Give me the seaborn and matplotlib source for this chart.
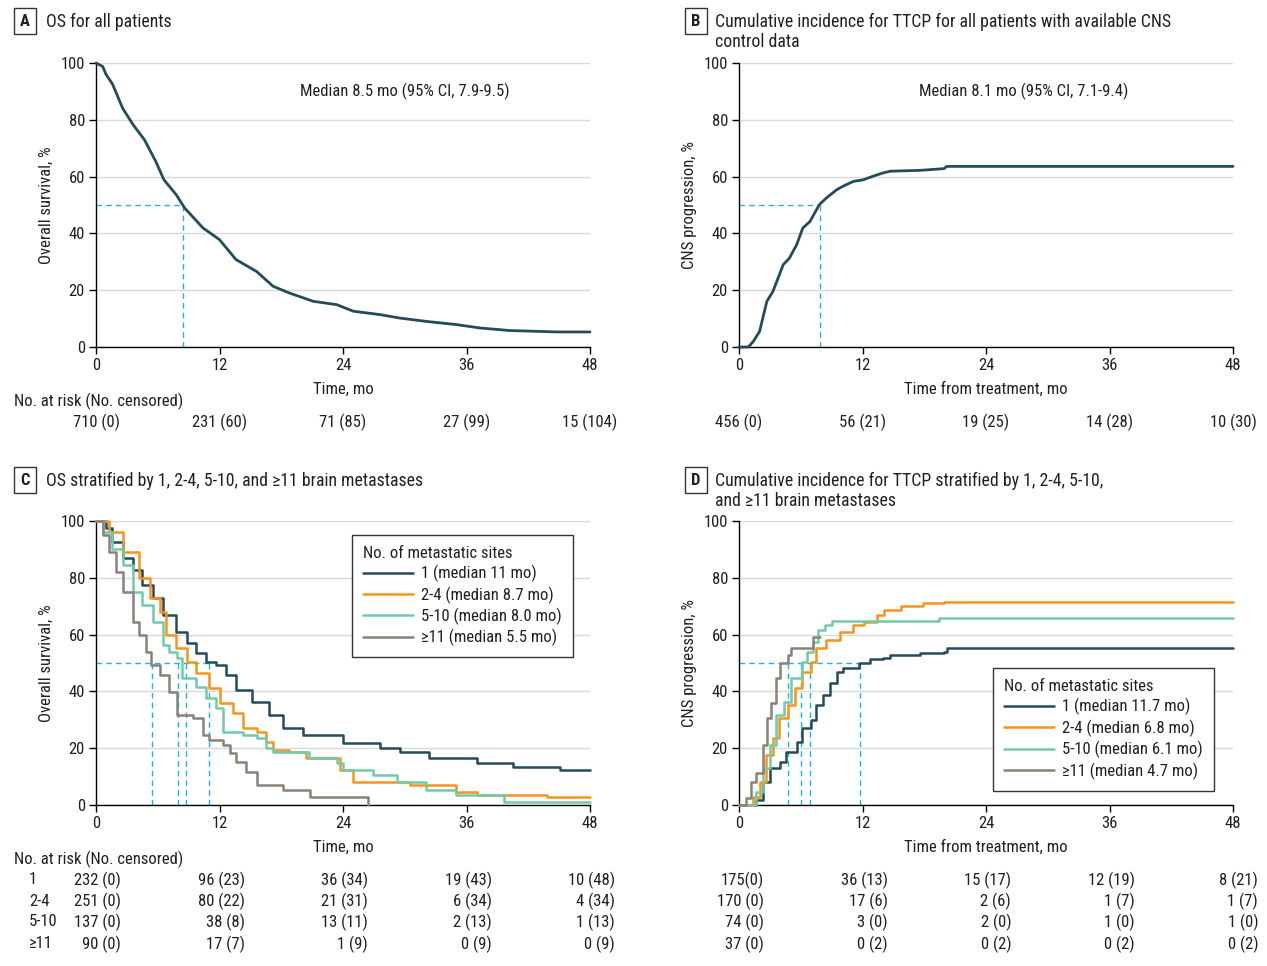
import numpy as np
import pandas as pd
import matplotlib
matplotlib.use("Agg")
import matplotlib.pyplot as plt
import seaborn as sns
from matplotlib import font_manager as fm
from matplotlib.transforms import blended_transform_factory

# ---------------- DATA ----------------
months_ticks = [0, 12, 24, 36, 48]
pct_ticks = [0, 20, 40, 60, 80, 100]

# Panel A: OS for all patients
os_all_t = [0, 0.65, 0.97, 1.6, 2.6, 3.6, 4.7, 5.8, 6.6, 7.8, 8.6, 10.4, 12.0, 13.6, 15.6, 17.2,
            18.8, 21.1, 23.4, 25.0, 27.6, 29.5, 32.1, 35.0, 37.3, 40.2, 44.8, 48.0]
os_all_v = [100, 98.8, 96, 92.6, 84, 78.3, 73, 65.4, 58.9, 53.6, 49, 41.9, 37.8, 30.8, 26.6, 21.4,
            19, 16.1, 14.9, 12.6, 11.4, 10.2, 9.0, 7.9, 6.7, 5.8, 5.3, 5.3]
os_all_median = 8.5
os_all_note = "Median 8.5 mo (95% CI, 7.9-9.5)"
os_all_risk = ["710 (0)", "231 (60)", "71 (85)", "27 (99)", "15 (104)"]

# Panel B: cumulative incidence TTCP, all patients
cns_all_t = [0, 0.9, 1.4, 2.0, 2.7, 3.3, 4.3, 4.9, 5.6, 6.2, 6.9, 7.8, 8.5, 9.5, 10.1, 11.1, 12.1,
             13.0, 14.0, 14.7, 17.6, 19.9, 20.2, 48.0]
cns_all_v = [0, 0, 2, 5.5, 16, 19.6, 29, 31.3, 36, 41.9, 44.2, 50.1, 52.5, 55.4, 56.6, 58.3, 58.9,
             60.1, 61.3, 61.9, 62.2, 62.8, 63.6, 63.6]
cns_all_median = 7.9
cns_all_note = "Median 8.1 mo (95% CI, 7.1-9.4)"
cns_all_risk = ["456 (0)", "56 (21)", "19 (25)", "14 (28)", "10 (30)"]

# Panel C: OS by number of brain metastases
groups = ["1", "2-4", "5-10", "\u226511"]
os_labels = ["1 (median 11 mo)", "2-4 (median 8.7 mo)", "5-10 (median 8.0 mo)", "\u226511 (median 5.5 mo)"]
os_g1_t = [0, 1.0, 1.6, 2.6, 3.6, 4.5, 5.5, 6.5, 7.8, 8.8, 9.7, 10.7, 11.7, 12.6, 13.6, 15.2, 16.8,
           18.2, 20.1, 24.0, 27.6, 29.5, 32.4, 37.0, 40.5, 45.1, 48.0]
os_g1_v = [100, 97.4, 92.7, 86.9, 82.7, 77.5, 72.8, 66.9, 61.0, 56.9, 53.4, 50.5, 49.3, 45.8, 40.5,
           36.4, 31.7, 27.0, 24.6, 21.7, 20.0, 18.8, 16.4, 14.7, 13.5, 12.3, 12.3]
os_g2_t = [0, 1.3, 2.6, 4.2, 5.2, 6.2, 6.8, 7.8, 8.8, 9.7, 11.0, 12.0, 13.3, 14.3, 15.6, 16.5, 17.2,
           18.8, 20.4, 23.7, 25.0, 30.5, 35.0, 37.0, 43.8, 48.0]
os_g2_v = [100, 96.2, 89.2, 79.8, 72.8, 68.1, 59.9, 55.2, 50.5, 46.4, 41.1, 35.8, 32.3, 27.0, 25.8,
           22.3, 19.4, 18.8, 16.4, 12.3, 8.2, 7.0, 4.7, 3.5, 2.9, 2.9]
os_g3_t = [0, 0.65, 1.6, 2.6, 3.6, 4.5, 5.5, 6.5, 7.1, 7.9, 8.4, 9.7, 10.7, 11.7, 12.3, 14.3, 15.6,
           16.5, 17.2, 20.7, 23.4, 24.0, 26.9, 29.2, 32.1, 35.0, 39.6, 48.0]
os_g3_v = [100, 96.2, 90.3, 84.5, 75.1, 70.4, 64.6, 56.3, 54.0, 51.6, 44.6, 41.7, 37.6, 34.0, 25.8,
           24.6, 23.5, 20.0, 18.8, 16.4, 14.7, 12.3, 10.6, 8.2, 5.3, 3.5, 1.2, 1.2]
os_g4_t = [0, 0.65, 1.3, 1.9, 2.6, 3.6, 4.2, 4.9, 5.35, 6.2, 7.1, 7.9, 9.4, 10.4, 11.0, 12.3, 13.0,
           13.6, 14.6, 15.6, 18.2, 20.8, 26.4, 26.4]
os_g4_v = [100, 95, 89.2, 82.2, 75.1, 64.6, 59.9, 54, 49.3, 45.8, 39.9, 31.7, 30.5, 24.6, 22.9, 21.1,
           18.2, 15.3, 11.7, 7.0, 5.3, 2.9, 2.9, 0]
os_grp_medians = [10.96, 8.7, 7.95, 5.45]
os_grp_risk = [["232 (0)", "96 (23)", "36 (34)", "19 (43)", "10 (48)"],
               ["251 (0)", "80 (22)", "21 (31)", "6 (34)", "4 (34)"],
               ["137 (0)", "38 (8)", "13 (11)", "2 (13)", "1 (13)"],
               ["90 (0)", "17 (7)", "1 (9)", "0 (9)", "0 (9)"]]

# Panel D: CNS progression by number of brain metastases
cns_labels = ["1 (median 11.7 mo)", "2-4 (median 6.8 mo)", "5-10 (median 6.1 mo)", "\u226511 (median 4.7 mo)"]
cns_g1_t = [0, 1.0, 1.7, 2.3, 3.0, 4.0, 4.6, 5.6, 6.1, 7.0, 7.5, 8.2, 8.8, 9.5, 10.1, 11.7, 12.7,
            14.0, 14.7, 17.6, 19.9, 20.2, 48.0]
cns_g1_v = [0, 0, 1.8, 8.2, 12.9, 15.3, 18.8, 22.3, 27.0, 29.9, 35.2, 38.7, 42.8, 46.9, 48.1, 49.9,
            51.4, 51.9, 52.8, 53.4, 54.0, 55.2, 55.2]
cns_g2_t = [0, 0.9, 1.4, 2.0, 2.6, 3.3, 3.9, 4.8, 5.4, 6.1, 7.0, 7.5, 8.5, 9.8, 11.1, 12.1, 13.4,
            14.1, 15.7, 17.9, 19.9, 48.0]
cns_g2_v = [0, 0, 2.9, 8.2, 17.6, 23.5, 30.5, 35.2, 41.1, 46.9, 50.5, 55.2, 58.1, 61.0, 63.4, 64.6,
            66.9, 68.7, 70.2, 71.0, 71.4, 71.4]
cns_g3_t = [0, 1.2, 1.7, 2.3, 3.0, 3.6, 4.4, 5.1, 6.1, 6.6, 7.2, 7.7, 8.4, 9.0, 19.2, 19.4, 48.0]
cns_g3_v = [0, 0, 4.7, 12.9, 21.1, 31.7, 36.4, 44.6, 50.5, 54.0, 57.5, 61.6, 63.4, 64.8, 64.8, 66.0, 66.0]
cns_g4_t = [0, 0.7, 1.2, 1.7, 2.3, 2.7, 3.1, 3.6, 3.95, 4.8, 5.1, 7.0, 7.2, 7.9]
cns_g4_v = [0, 2.6, 8.2, 11.2, 21.1, 30.5, 35.8, 44.6, 49.9, 52.8, 55.4, 55.4, 59.3, 59.3]
cns_grp_medians = [11.75, 6.9, 6.0, 4.77]
cns_grp_risk = [["175(0)", "36 (13)", "15 (17)", "12 (19)", "8 (21)"],
                ["170 (0)", "17 (6)", "2 (6)", "1 (7)", "1 (7)"],
                ["74 (0)", "3 (0)", "2 (0)", "1 (0)", "1 (0)"],
                ["37 (0)", "0 (2)", "0 (2)", "0 (2)", "0 (2)"]]

titles = ["OS for all patients",
          "Cumulative incidence for TTCP for all patients with available CNS\ncontrol data",
          "OS stratified by 1, 2-4, 5-10, and \u226511 brain metastases",
          "Cumulative incidence for TTCP stratified by 1, 2-4, 5-10,\nand \u226511 brain metastases"]
panel_letters = ["A", "B", "C", "D"]

# ---------------- STYLE ----------------
NAVY = "#254b5a"
ORANGE = "#f7941d"
TEAL = "#6fcba9"
GRAY = "#8b8177"
CYAN = "#22b0e6"
grp_colors = [NAVY, ORANGE, TEAL, GRAY]
TXT = "#231f20"

sns.set_theme(style="white")
names = {f.name for f in fm.fontManager.ttflist}
main_font = "DejaVu Sans"
for cand in ["Liberation Sans Narrow", "Roboto Condensed", "Open Sans Condensed", "Roboto", "Lato"]:
    if cand in names:
        main_font = cand
        break
plt.rcParams["font.family"] = [main_font, "DejaVu Sans"]
plt.rcParams["text.color"] = TXT
FS = 12
FS_T = 12.8

W, H = 1267, 966
fig = plt.figure(figsize=(W / 100, H / 100), dpi=100)


def add_ax(x0, x1, ytop, ybot):
    return fig.add_axes([x0 / W, 1 - ybot / H, (x1 - x0) / W, (ybot - ytop) / H])


def style_ax(ax, ylabel, xlabel):
    ax.set_xlim(0, 48)
    ax.set_ylim(0, 100)
    ax.set_xticks(months_ticks)
    ax.set_yticks(pct_ticks)
    ax.yaxis.grid(True, color="#d9d9d9", lw=1)
    ax.xaxis.grid(False)
    ax.set_axisbelow(True)
    for s in ["top", "right"]:
        ax.spines[s].set_visible(False)
    for s in ["left", "bottom"]:
        ax.spines[s].set_color("black")
        ax.spines[s].set_linewidth(1)
    ax.tick_params(axis="both", which="both", direction="out", length=5, width=1,
                   color="black", labelsize=FS, labelcolor=TXT, pad=3,
                   left=True, bottom=True)
    ax.set_ylabel(ylabel, fontsize=FS, color=TXT)
    ax.set_xlabel(xlabel, fontsize=FS, color=TXT)
    ax.yaxis.set_label_coords(-0.086, 0.5)
    ax.xaxis.set_label_coords(0.5, -0.122)


def median_lines(ax, meds, ymed=50):
    ax.plot([0, max(meds)], [ymed, ymed], color=CYAN, lw=1, ls=(0, (4, 3)), zorder=2)
    for m in meds:
        ax.plot([m, m], [0, ymed], color=CYAN, lw=1, ls=(0, (4, 3)), zorder=2)


def panel_title(x_box, x_txt, y, letter, text):
    fig.text(x_box / W, 1 - y / H, letter, ha="center", va="center", fontsize=FS,
             weight="bold", color=TXT,
             bbox=dict(boxstyle="square,pad=0.35", fc="white", ec="#333333", lw=1))
    fig.text(x_txt / W, 1 - (y - 8) / H, text, ha="left", va="top", fontsize=FS_T,
             color=TXT, linespacing=1.12)


def legend(ax, handles, anchor):
    lg = ax.legend([h for h, _ in handles], [l for _, l in handles], title="No. of metastatic sites",
                   loc="upper left", bbox_to_anchor=anchor, borderaxespad=0, fontsize=FS,
                   title_fontsize=FS, frameon=True, fancybox=False, edgecolor="#333333",
                   framealpha=1, handlelength=3.0, handletextpad=0.5, labelspacing=0.25,
                   borderpad=0.65, alignment="left")
    lg.get_frame().set_linewidth(1)
    return lg


# ---------- Panel A ----------
axA = add_ax(96, 590, 63, 347)
median_lines(axA, [os_all_median])
sns.lineplot(x=os_all_t, y=os_all_v, ax=axA, color=NAVY, lw=2, estimator=None, sort=False,
             clip_on=False, zorder=3)
style_ax(axA, "Overall survival, %", "Time, mo")
axA.text(30, 90, os_all_note, ha="center", va="center", fontsize=FS, color=TXT)
trA = blended_transform_factory(axA.transData, fig.transFigure)
fig.text(14 / W, 1 - 401 / H, "No. at risk (No. censored)", ha="left", va="center", fontsize=FS)
for t, s in zip(months_ticks, os_all_risk):
    axA.text(t, 1 - 422 / H, s, transform=trA, ha="center", va="center", fontsize=FS)
panel_title(25, 46, 21, panel_letters[0], titles[0])

# ---------- Panel B ----------
axB = add_ax(739, 1233, 63, 347)
median_lines(axB, [cns_all_median])
sns.lineplot(x=cns_all_t, y=cns_all_v, ax=axB, color=NAVY, lw=2, estimator=None, sort=False,
             clip_on=False, zorder=3)
style_ax(axB, "CNS progression, %", "Time from treatment, mo")
axB.text(27.7, 90, cns_all_note, ha="center", va="center", fontsize=FS, color=TXT)
trB = blended_transform_factory(axB.transData, fig.transFigure)
for t, s in zip(months_ticks, cns_all_risk):
    axB.text(t, 1 - 422 / H, s, transform=trB, ha="center", va="center", fontsize=FS)
panel_title(696, 715, 21, panel_letters[1], titles[1])

# ---------- Panel C ----------
axC = add_ax(96, 590, 521, 805)
median_lines(axC, os_grp_medians)
os_series = [(os_g1_t, os_g1_v), (os_g2_t, os_g2_v), (os_g3_t, os_g3_v), (os_g4_t, os_g4_v)]
handlesC = []
for (t, v), c, lab in zip(os_series, grp_colors, os_labels):
    sns.lineplot(x=t, y=v, ax=axC, color=c, lw=1.8, drawstyle="steps-post", estimator=None,
                 sort=False, clip_on=False, zorder=3)
    handlesC.append((axC.lines[-1], lab))
style_ax(axC, "Overall survival, %", "Time, mo")
legend(axC, handlesC, (0.518, 0.951))
trC = blended_transform_factory(axC.transData, fig.transFigure)
fig.text(14 / W, 1 - 859 / H, "No. at risk (No. censored)", ha="left", va="center", fontsize=FS)
row_y = [880, 901, 922, 944]
for gi, g in enumerate(groups):
    fig.text(29 / W, 1 - row_y[gi] / H, g, ha="left", va="center", fontsize=FS)
    for t, s in zip(months_ticks, os_grp_risk[gi]):
        axC.text(t + 2.45, 1 - row_y[gi] / H, s, transform=trC, ha="right", va="center", fontsize=FS)
panel_title(25, 46, 480, panel_letters[2], titles[2])

# ---------- Panel D ----------
axD = add_ax(739, 1233, 521, 805)
median_lines(axD, cns_grp_medians)
cns_series = [(cns_g1_t, cns_g1_v), (cns_g2_t, cns_g2_v), (cns_g3_t, cns_g3_v), (cns_g4_t, cns_g4_v)]
handlesD = []
for (t, v), c, lab in zip(cns_series, grp_colors, cns_labels):
    sns.lineplot(x=t, y=v, ax=axD, color=c, lw=1.8, drawstyle="steps-post", estimator=None,
                 sort=False, clip_on=False, zorder=3)
    handlesD.append((axD.lines[-1], lab))
style_ax(axD, "CNS progression, %", "Time from treatment, mo")
legend(axD, handlesD, (0.514, 0.482))
trD = blended_transform_factory(axD.transData, fig.transFigure)
for gi, g in enumerate(groups):
    for t, s in zip(months_ticks, cns_grp_risk[gi]):
        axD.text(t + 2.45, 1 - row_y[gi] / H, s, transform=trD, ha="right", va="center", fontsize=FS)
panel_title(696, 715, 480, panel_letters[3], titles[3])

fig.savefig("out.png", dpi=100, facecolor="white")
